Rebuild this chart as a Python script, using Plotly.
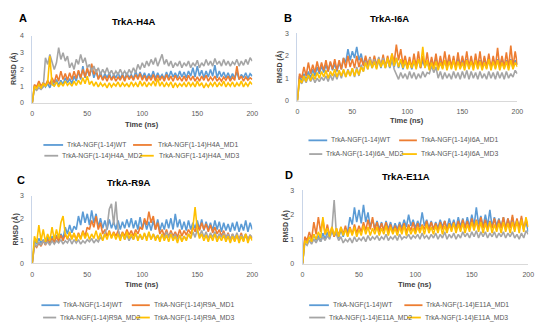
import plotly.graph_objects as go

time_ns = list(range(0, 201, 2))

panel_letters = ["A", "B", "C", "D"]
panel_titles = ["TrkA-H4A", "TrkA-I6A", "TrkA-R9A", "TrkA-E11A"]
series_names = [
    ["TrkA-NGF(1-14)WT", "TrkA-NGF(1-14)H4A_MD1", "TrkA-NGF(1-14)H4A_MD2", "TrkA-NGF(1-14)H4A_MD3"],
    ["TrkA-NGF(1-14)WT", "TrkA-NGF(1-14)I6A_MD1", "TrkA-NGF(1-14)I6A_MD2", "TrkA-NGF(1-14)I6A_MD3"],
    ["TrkA-NGF(1-14)WT", "TrkA-NGF(1-14)R9A_MD1", "TrkA-NGF(1-14)R9A_MD2", "TrkA-NGF(1-14)R9A_MD3"],
    ["TrkA-NGF(1-14)WT", "TrkA-NGF(1-14)E11A_MD1", "TrkA-NGF(1-14)E11A_MD2", "TrkA-NGF(1-14)E11A_MD3"],
]
y_max = [4, 3, 3, 3]
y_ticks = [[0, 1, 2, 3, 4], [0, 1, 2, 3], [0, 1, 2, 3], [0, 1, 2, 3]]
x_ticks = [0, 50, 100, 150, 200]

# ---- Panel A (H4A) ----
A_WT = [0, 1.05, 0.85, 1.1, 0.9, 1.2, 0.95, 1.15, 0.9, 1.3,
        1.0, 1.4, 1.05, 1.35, 1.1, 1.5, 1.2, 1.45, 1.15, 1.6,
        1.3, 1.9, 1.4, 2.2, 1.5, 2.0, 1.6, 2.1, 1.5, 1.9,
        1.45, 1.85, 1.4, 1.75, 1.5, 1.8, 1.4, 1.7, 1.5, 1.8,
        1.45, 1.75, 1.4, 1.8, 1.5, 1.7, 1.45, 1.9, 1.5, 1.85,
        1.5, 1.8, 1.45, 1.75, 1.5, 1.9, 1.45, 1.8, 1.5, 1.7,
        1.45, 1.85, 1.5, 1.9, 1.55, 1.8, 1.5, 1.9, 1.55, 1.85,
        1.5, 1.9, 1.6, 2.1, 1.55, 2.2, 1.6, 1.95, 1.5, 1.9,
        1.55, 2.0, 1.6, 2.25, 1.5, 1.9, 1.55, 1.85, 1.5, 1.8,
        1.45, 1.75, 1.5, 1.85, 1.4, 1.7, 1.5, 1.8, 1.45, 1.75,
        1.6]
A_MD1 = [0, 1.1, 0.95, 1.3, 1.0, 1.2, 1.05, 1.35, 1.1, 1.5,
         1.2, 1.7, 1.3, 1.9, 1.4, 1.75, 1.35, 1.8, 1.4, 1.9,
         1.45, 1.95, 1.5, 2.0, 1.55, 2.1, 1.6, 2.35, 1.7, 2.0,
         1.4, 1.7, 1.35, 1.6, 1.3, 1.65, 1.35, 1.6, 1.3, 1.55,
         1.35, 1.65, 1.3, 1.7, 1.4, 1.6, 1.35, 1.7, 1.4, 1.75,
         1.35, 1.65, 1.3, 1.6, 1.35, 1.7, 1.3, 1.65, 1.35, 1.6,
         1.3, 1.7, 1.35, 1.6, 1.3, 1.65, 1.35, 1.55, 1.3, 1.6,
         1.3, 1.65, 1.35, 1.6, 1.3, 1.55, 1.3, 1.6, 1.35, 1.65,
         1.3, 1.55, 1.35, 1.6, 1.3, 1.5, 1.3, 1.55, 1.35, 1.6,
         1.3, 1.55, 1.35, 2.2, 1.4, 1.6, 1.3, 1.55, 1.35, 1.5,
         1.4]
A_MD2 = [0, 0.85, 0.75, 0.9, 0.8, 0.95, 2.7, 2.3, 2.9, 2.5,
         2.0, 2.4, 3.3, 2.6, 3.0, 2.5, 2.8, 2.1, 2.4, 2.0,
         2.6, 2.3, 2.9, 2.4, 2.7, 2.1, 2.3, 1.9, 2.2, 1.8,
         2.1, 1.7, 2.0, 1.75, 2.1, 1.7, 1.95, 1.65, 1.9, 1.7,
         2.0, 1.7, 1.9, 1.65, 2.0, 1.75, 2.1, 1.8, 2.3, 2.0,
         2.4, 2.1, 2.5, 2.2, 2.6, 2.3, 2.7, 2.2, 2.5, 2.9,
         2.3, 2.6, 2.2, 2.5, 2.1, 2.4, 2.2, 2.5, 2.1, 2.4,
         2.2, 2.5, 2.1, 2.4, 2.2, 2.55, 2.1, 2.4, 2.2, 2.6,
         2.25, 2.5, 2.2, 2.65, 2.3, 2.5, 2.2, 2.6, 2.25, 2.5,
         2.2, 2.45, 2.3, 2.6, 2.2, 2.5, 2.25, 2.6, 2.3, 2.7,
         2.5]
A_MD3 = [0, 1.0, 0.85, 1.1, 0.9, 1.15, 1.0, 1.2, 2.8, 1.1,
         1.0, 1.25, 0.95, 1.2, 1.0, 1.3, 1.05, 1.2, 1.0, 1.3,
         1.05, 1.35, 1.1, 1.5, 1.15, 1.6, 1.1, 1.3, 1.0, 1.25,
         0.95, 1.2, 1.0, 1.15, 0.9, 1.2, 0.95, 1.15, 1.0, 1.25,
         0.95, 1.2, 1.0, 1.15, 0.95, 1.25, 1.0, 1.2, 0.95, 1.3,
         1.0, 1.25, 0.95, 1.2, 1.05, 1.3, 1.0, 1.45, 1.0, 1.25,
         0.95, 1.2, 1.0, 1.25, 0.9, 1.2, 0.95, 1.15, 1.0, 1.2,
         0.95, 1.25, 1.0, 1.2, 0.95, 1.3, 1.0, 1.2, 0.9, 1.15,
         0.95, 1.2, 1.0, 1.25, 0.95, 1.2, 1.0, 1.3, 0.95, 1.2,
         1.0, 1.25, 0.95, 1.2, 1.0, 1.3, 0.95, 1.2, 1.0, 1.25,
         1.1]

# ---- Panel B (I6A) ----
B_WT = [0, 1.1, 0.85, 1.2, 0.9, 1.3, 1.0, 1.4, 1.1, 1.5,
        1.2, 1.55, 1.25, 1.6, 1.3, 1.7, 1.35, 1.65, 1.3, 1.7,
        1.4, 1.9, 1.7, 2.3, 1.8, 2.2, 1.9, 2.4, 1.8, 2.1,
        1.6, 1.9, 1.5, 1.8, 1.45, 1.85, 1.5, 1.8, 1.45, 1.9,
        1.5, 1.85, 1.45, 1.8, 1.5, 1.9, 1.45, 1.8, 1.4, 1.75,
        1.45, 1.8, 1.4, 1.75, 1.5, 1.85, 1.45, 1.8, 1.5, 1.75,
        1.4, 1.8, 1.45, 1.85, 1.5, 1.75, 1.45, 1.8, 1.5, 1.85,
        1.45, 1.8, 1.5, 1.9, 1.45, 1.8, 1.5, 1.85, 1.45, 1.8,
        1.5, 1.85, 1.45, 1.8, 1.5, 1.9, 1.45, 1.85, 1.5, 1.8,
        1.45, 1.85, 1.5, 1.9, 1.45, 1.8, 1.5, 1.85, 1.45, 1.8,
        1.6]
B_MD1 = [0, 1.2, 1.0, 1.5, 1.1, 1.7, 1.2, 1.6, 1.25, 1.75,
         1.3, 1.7, 1.35, 1.8, 1.3, 1.75, 1.4, 1.85, 1.35, 1.8,
         1.4, 1.9, 1.45, 2.0, 1.5, 1.85, 1.45, 2.0, 1.5, 1.9,
         1.55, 2.0, 1.6, 1.95, 1.55, 2.0, 1.6, 1.9, 1.55, 2.05,
         1.5, 2.0, 1.6, 2.1, 1.7, 2.5, 1.8, 2.3, 1.6, 2.0,
         1.5, 1.95, 1.45, 2.1, 1.5, 2.2, 1.45, 2.0, 1.5, 2.15,
         1.45, 1.95, 1.5, 2.1, 1.45, 2.0, 1.5, 2.2, 1.55, 2.05,
         1.5, 2.0, 1.45, 2.15, 1.5, 2.0, 1.55, 2.2, 1.5, 2.0,
         1.45, 2.1, 1.5, 2.2, 1.45, 2.0, 1.5, 2.1, 1.45, 2.0,
         1.5, 2.35, 1.45, 2.0, 1.5, 2.15, 1.45, 2.45, 1.5, 2.2,
         1.6]
B_MD2 = [0, 0.9, 0.75, 1.0, 0.8, 1.1, 0.85, 1.05, 0.8, 1.0,
         0.85, 1.05, 0.9, 1.1, 0.85, 1.15, 0.9, 1.2, 0.95, 1.3,
         1.0, 1.35, 1.05, 1.4, 1.1, 1.45, 1.05, 1.5, 1.1, 1.6,
         1.3, 1.75, 1.4, 1.9, 1.5, 1.85, 1.45, 1.95, 1.5, 1.9,
         1.45, 1.85, 1.5, 1.9, 1.4, 1.2, 0.95, 1.25, 1.0, 1.2,
         0.95, 1.3, 1.0, 1.25, 0.95, 1.2, 1.0, 1.3, 1.05, 1.25,
         1.2, 1.55, 1.25, 1.5, 1.0, 1.3, 0.95, 1.25, 1.0, 1.2,
         0.95, 1.3, 1.0, 1.25, 0.95, 1.3, 1.0, 1.35, 0.95, 1.3,
         1.0, 1.25, 0.95, 1.3, 1.0, 1.2, 0.95, 1.3, 1.0, 1.25,
         0.95, 1.3, 1.0, 1.25, 0.95, 1.3, 1.0, 1.2, 1.05, 1.35,
         1.2]
B_MD3 = [0, 0.95, 0.8, 1.1, 0.85, 1.15, 0.9, 1.2, 0.95, 1.25,
         1.0, 1.3, 1.05, 1.35, 1.0, 1.3, 1.1, 1.4, 1.05, 1.35,
         1.1, 1.4, 1.05, 1.35, 1.1, 1.45, 1.1, 1.4, 1.15, 1.5,
         1.3, 1.7, 1.4, 1.8, 1.45, 1.75, 1.4, 1.85, 1.5, 1.8,
         1.45, 1.9, 1.5, 2.1, 1.55, 1.9, 1.5, 1.85, 1.45, 1.8,
         1.4, 1.75, 1.45, 1.8, 1.4, 1.85, 1.5, 2.4, 1.45, 1.8,
         1.35, 1.7, 1.4, 1.75, 1.35, 1.7, 1.4, 1.8, 1.35, 1.75,
         1.4, 1.8, 1.35, 1.75, 1.4, 1.7, 1.35, 1.8, 1.4, 1.75,
         1.35, 1.8, 1.4, 1.75, 1.35, 1.7, 1.4, 1.85, 1.35, 1.75,
         1.4, 1.8, 1.35, 1.7, 1.4, 1.75, 1.35, 1.8, 1.4, 1.7,
         1.5]

# ---- Panel C (R9A) ----
C_WT = [0, 1.0, 0.85, 1.1, 0.9, 1.05, 0.85, 1.15, 0.9, 1.2,
        0.95, 1.25, 1.0, 1.3, 1.1, 1.6, 1.3, 1.7, 1.35, 1.65,
        1.5, 2.1, 1.7, 2.3, 1.8, 2.2, 1.7, 2.35, 1.8, 2.2,
        1.6, 2.0, 1.55, 1.9, 1.5, 1.95, 1.55, 1.85, 1.5, 1.9,
        1.5, 1.85, 1.55, 1.95, 1.6, 2.0, 1.55, 1.9, 1.5, 2.05,
        1.55, 1.9, 1.5, 1.85, 1.45, 1.9, 1.5, 1.95, 1.45, 1.8,
        1.5, 1.95, 1.55, 2.0, 1.5, 2.2, 1.6, 1.95, 1.5, 1.85,
        1.45, 1.9, 1.5, 1.8, 1.55, 1.9, 1.5, 1.95, 1.45, 1.85,
        1.5, 1.8, 1.45, 1.9, 1.5, 1.85, 1.4, 1.8, 1.45, 1.75,
        1.4, 1.8, 1.45, 1.85, 1.4, 1.75, 1.45, 1.9, 1.4, 1.8,
        1.5]
C_MD1 = [0, 0.8, 0.7, 0.9, 0.75, 1.0, 0.8, 1.05, 0.85, 1.1,
         0.9, 1.2, 0.95, 1.25, 1.0, 1.3, 1.05, 1.35, 1.1, 1.3,
         1.05, 1.35, 1.1, 1.45, 1.2, 1.6, 1.5, 1.9, 1.6, 2.1,
         1.5, 1.8, 1.3, 1.5, 1.2, 1.45, 1.15, 1.4, 1.2, 1.45,
         1.15, 1.4, 1.2, 1.5, 1.25, 1.45, 1.2, 1.5, 1.3, 1.6,
         1.5, 2.0, 1.7, 2.3, 1.8, 2.1, 1.5, 1.8, 1.3, 1.5,
         1.2, 1.5, 1.15, 1.45, 1.2, 1.4, 1.15, 1.5, 1.2, 1.45,
         1.25, 1.5, 1.3, 1.6, 1.4, 1.75, 1.45, 1.8, 1.5, 1.75,
         1.4, 1.7, 1.35, 1.6, 1.3, 1.5, 1.2, 1.45, 1.1, 1.35,
         1.05, 1.3, 1.0, 1.25, 1.05, 1.35, 1.0, 1.3, 1.05, 1.25,
         1.1]
C_MD2 = [0, 0.85, 0.75, 0.95, 0.8, 1.0, 0.85, 0.95, 0.8, 1.0,
         0.85, 1.0, 0.9, 1.05, 0.85, 1.0, 0.9, 1.1, 0.85, 1.05,
         0.9, 1.05, 0.85, 1.0, 0.9, 1.05, 0.95, 1.1, 0.9, 1.05,
         0.95, 1.15, 1.05, 1.3, 1.6, 2.4, 2.65, 1.7, 2.75, 1.5,
         1.1, 1.3, 1.05, 1.25, 1.0, 1.2, 1.05, 1.3, 1.1, 1.25,
         1.05, 1.3, 1.1, 1.35, 1.05, 1.3, 1.1, 1.25, 1.05, 1.3,
         1.1, 1.4, 1.15, 1.35, 1.1, 1.3, 1.05, 1.25, 1.0, 1.2,
         1.05, 1.3, 1.1, 1.4, 1.15, 1.5, 1.2, 1.45, 1.15, 1.4,
         1.1, 1.35, 1.15, 1.4, 1.1, 1.3, 1.15, 1.35, 1.1, 1.3,
         1.05, 1.3, 1.1, 1.35, 1.05, 1.25, 1.1, 1.3, 1.05, 1.25,
         1.15]
C_MD3 = [0, 1.2, 0.9, 1.7, 1.0, 1.5, 0.95, 1.3, 1.0, 1.6,
         1.05, 1.5, 1.1, 1.8, 2.1, 1.3, 1.1, 1.4, 1.05, 1.35,
         1.0, 1.3, 1.05, 1.4, 1.1, 1.35, 1.05, 1.3, 1.1, 1.45,
         1.05, 1.35, 1.0, 1.3, 1.05, 1.4, 1.1, 1.35, 1.05, 1.3,
         1.0, 1.35, 1.05, 1.4, 1.1, 1.3, 1.05, 1.35, 1.0, 1.3,
         1.05, 1.35, 1.0, 1.4, 1.05, 1.3, 1.0, 1.25, 0.95, 1.3,
         1.0, 1.25, 0.95, 1.3, 1.0, 1.2, 0.9, 1.25, 0.95, 1.2,
         1.0, 1.3, 1.1, 1.6, 2.5, 1.5, 1.1, 1.3, 1.0, 1.25,
         0.95, 1.25, 1.0, 1.3, 0.95, 1.2, 1.0, 1.25, 0.95, 1.2,
         0.9, 1.2, 0.95, 1.25, 0.9, 1.2, 0.95, 1.3, 0.9, 1.2,
         1.0]

# ---- Panel D (E11A) ----
D_WT = [0, 1.0, 0.85, 1.1, 0.9, 1.2, 0.95, 1.15, 0.9, 1.25,
        1.0, 1.3, 1.05, 1.35, 1.1, 1.3, 1.05, 1.4, 1.1, 1.45,
        1.3, 1.9, 1.6, 2.3, 1.7, 2.2, 1.65, 2.4, 1.7, 2.1,
        1.5, 1.8, 1.45, 1.75, 1.4, 1.7, 1.35, 1.75, 1.4, 1.7,
        1.35, 1.65, 1.4, 1.7, 1.45, 1.8, 1.5, 2.0, 1.55, 1.8,
        1.45, 1.75, 1.5, 2.1, 1.55, 1.8, 1.45, 1.75, 1.4, 1.7,
        1.45, 1.8, 1.5, 1.75, 1.45, 1.85, 1.5, 1.8, 1.45, 1.9,
        1.5, 1.85, 1.45, 1.9, 1.5, 2.0, 1.55, 2.3, 1.6, 1.95,
        1.5, 2.0, 1.55, 2.2, 1.5, 1.9, 1.55, 1.85, 1.5, 1.9,
        1.45, 1.85, 1.5, 1.9, 1.45, 1.8, 1.5, 1.85, 1.4, 1.75,
        1.3]
D_MD1 = [0, 1.1, 0.95, 1.3, 1.0, 1.7, 1.2, 1.9, 1.3, 1.8,
         1.2, 1.6, 1.15, 1.5, 1.1, 1.45, 1.15, 1.5, 1.2, 1.55,
         1.15, 1.5, 1.2, 1.6, 1.25, 1.55, 1.3, 1.7, 1.35, 1.8,
         1.4, 1.9, 1.35, 1.7, 1.3, 1.65, 1.35, 1.7, 1.3, 1.6,
         1.25, 1.55, 1.3, 1.6, 1.35, 1.65, 1.3, 1.6, 1.35, 1.7,
         1.3, 1.65, 1.35, 1.6, 1.4, 1.75, 1.35, 1.7, 1.4, 1.65,
         1.35, 1.7, 1.4, 1.75, 1.35, 1.65, 1.4, 1.7, 1.35, 1.75,
         1.4, 1.8, 1.45, 1.75, 1.4, 1.85, 1.45, 1.8, 1.4, 1.9,
         1.45, 1.8, 1.4, 1.75, 1.45, 1.85, 1.4, 1.8, 1.45, 1.9,
         1.4, 1.85, 1.45, 2.0, 1.4, 1.85, 1.45, 1.95, 1.4, 1.8,
         1.5]
D_MD2 = [0, 0.85, 0.75, 0.95, 0.8, 1.0, 0.85, 1.05, 0.9, 1.1,
         0.95, 1.15, 1.0, 1.4, 2.6, 1.2, 0.95, 1.1, 0.85, 1.0,
         0.9, 1.05, 0.85, 1.1, 0.9, 1.05, 0.95, 1.1, 0.9, 1.15,
         0.95, 1.1, 1.0, 1.15, 0.95, 1.1, 1.0, 1.2, 0.95, 1.1,
         1.0, 1.15, 0.95, 1.2, 1.0, 1.1, 1.05, 1.2, 1.0, 1.15,
         1.05, 1.2, 1.0, 1.25, 1.05, 1.15, 1.0, 1.2, 1.05, 1.25,
         1.0, 1.2, 1.05, 1.3, 1.0, 1.2, 1.05, 1.25, 1.0, 1.2,
         1.05, 1.3, 1.1, 1.25, 1.05, 1.3, 1.1, 1.35, 1.05, 1.3,
         1.1, 1.3, 1.05, 1.25, 1.1, 1.3, 1.05, 1.25, 1.1, 1.3,
         1.05, 1.25, 1.1, 1.3, 1.05, 1.2, 1.0, 1.25, 1.05, 1.35,
         1.2]
D_MD3 = [0, 0.95, 0.85, 1.1, 0.9, 1.2, 1.0, 1.3, 1.05, 1.9,
         1.2, 1.45, 1.1, 1.5, 1.15, 1.45, 1.1, 1.5, 1.15, 1.4,
         1.1, 1.45, 1.15, 1.5, 1.1, 1.4, 1.15, 1.55, 1.2, 1.5,
         1.15, 1.45, 1.2, 1.5, 1.15, 1.45, 1.2, 1.55, 1.15, 1.5,
         1.2, 1.45, 1.15, 1.5, 1.2, 1.55, 1.15, 1.5, 1.2, 1.45,
         1.2, 1.5, 1.25, 1.55, 1.2, 1.6, 1.25, 1.5, 1.2, 1.55,
         1.25, 1.6, 1.2, 1.55, 1.25, 1.6, 1.3, 1.65, 1.25, 1.6,
         1.3, 1.65, 1.25, 1.6, 1.3, 1.7, 1.35, 1.75, 1.3, 1.7,
         1.25, 1.65, 1.3, 1.7, 1.25, 1.6, 1.3, 1.65, 1.25, 1.7,
         1.3, 1.65, 1.25, 1.7, 1.3, 1.75, 1.25, 1.8, 1.3, 1.9,
         1.5]

panel_data = [
    [A_WT, A_MD1, A_MD2, A_MD3],
    [B_WT, B_MD1, B_MD2, B_MD3],
    [C_WT, C_MD1, C_MD2, C_MD3],
    [D_WT, D_MD1, D_MD2, D_MD3],
]
colors = ["#5B9BD5", "#ED7D31", "#A5A5A5", "#FFC000"]

# ---- layout geometry (pixels) ----
W, H = 550, 332
def px(x): return x / W
def py(y): return 1 - y / H

# plot areas: (left, right, top, bottom) in pixels
areas = [(30.7, 254, 32.7, 101), (299.7, 523, 30, 98.7),
         (30.7, 254, 196, 264.7), (305, 534, 190.3, 265.3)]
letter_pos = [(21.7, 14), (290, 14), (19.3, 180), (291.7, 175)]
title_pos = [(133.3, 18.3), (393.3, 15), (128.3, 182), (410, 176)]
xtitle_pos = [(142.3, 122.7), (411.3, 119), (142.3, 286.7), (419.5, 286.7)]
ytitle_pos = [(11.7, 66.8), (282.3, 64.3), (13.3, 230.3), (287.7, 227.8)]
# legend entries: (line x0, line x1, text x, y) in pixels, per series
legend_geo = [
    [(42, 62, 64, 144), (133, 152, 156, 144), (43, 57, 59, 155), (140, 154, 157, 155)],
    [(311, 330, 332, 139.3), (403, 421, 423, 139.3), (311.7, 325, 327, 153.3), (406, 421, 423, 153.3)],
    [(40, 58.3, 60, 307.7), (131.7, 150, 152, 307.7), (41.7, 55, 57, 320.3), (136, 150, 152, 320.3)],
    [(311.7, 331.7, 333.5, 307.7), (408.3, 426.7, 428.5, 307.7), (311.7, 328, 330, 320.3), (411, 425, 427, 320.3)],
]

fig = go.Figure()
annotations = []
shapes = []
tfont = dict(size=7, color="#595959", family="Liberation Sans")

for p in range(4):
    xa = "x" if p == 0 else f"x{p+1}"
    ya = "y" if p == 0 else f"y{p+1}"
    for s in range(4):
        fig.add_trace(go.Scatter(
            x=time_ns, y=panel_data[p][s], mode="lines", name=series_names[p][s],
            line=dict(color=colors[s], width=1.6), xaxis=xa, yaxis=ya,
            showlegend=False, hoverinfo="skip"))
    l, r, t, b = areas[p]
    xkey = "xaxis" if p == 0 else f"xaxis{p+1}"
    ykey = "yaxis" if p == 0 else f"yaxis{p+1}"
    fig.update_layout(**{
        xkey: dict(domain=[px(l), px(r)], range=[0, 200], anchor=ya,
                   tickvals=x_ticks, showgrid=False, zeroline=False,
                   showline=True, linecolor="#D9D9D9", linewidth=1,
                   ticks="", tickfont=tfont, ticklabelstandoff=4),
        ykey: dict(domain=[py(b), py(t)], range=[0, y_max[p]], anchor=xa,
                   tickvals=y_ticks[p], showgrid=False, zeroline=False,
                   showline=True, linecolor="#C9D5E8", linewidth=1,
                   ticks="", tickfont=tfont, ticklabelstandoff=6),
    })
    annotations.append(dict(x=px(letter_pos[p][0]), y=py(letter_pos[p][1]), xref="paper",
                            yref="paper", text=f"<b>{panel_letters[p]}</b>", showarrow=False,
                            font=dict(size=11, color="#000000", family="Liberation Sans"),
                            xanchor="center", yanchor="middle"))
    annotations.append(dict(x=px(title_pos[p][0]), y=py(title_pos[p][1]), xref="paper",
                            yref="paper", text=f"<b>{panel_titles[p]}</b>", showarrow=False,
                            font=dict(size=9.5, color="#000000", family="Liberation Sans"),
                            xanchor="center", yanchor="middle"))
    annotations.append(dict(x=px(xtitle_pos[p][0]), y=py(xtitle_pos[p][1]), xref="paper",
                            yref="paper", text="<b>Time (ns)</b>", showarrow=False,
                            font=dict(size=7.5, color="#404040", family="Liberation Sans"),
                            xanchor="center", yanchor="middle"))
    annotations.append(dict(x=px(ytitle_pos[p][0]), y=py(ytitle_pos[p][1]), xref="paper",
                            yref="paper", text="<b>RMSD (Å)</b>", showarrow=False, textangle=-90,
                            font=dict(size=7, color="#404040", family="Liberation Sans"),
                            xanchor="center", yanchor="middle"))
    for s in range(4):
        x0, x1, tx, yy = legend_geo[p][s]
        shapes.append(dict(type="line", xref="paper", yref="paper",
                           x0=px(x0), x1=px(x1), y0=py(yy), y1=py(yy),
                           line=dict(color=colors[s], width=1.8)))
        annotations.append(dict(x=px(tx), y=py(yy), xref="paper", yref="paper",
                                text=series_names[p][s], showarrow=False,
                                font=dict(size=6.8, color="#595959", family="Liberation Sans"),
                                xanchor="left", yanchor="middle"))

fig.update_layout(width=W, height=H, margin=dict(l=0, r=0, t=0, b=0),
                  paper_bgcolor="white", plot_bgcolor="white", hovermode=False,
                  annotations=annotations, shapes=shapes, showlegend=False)

fig.write_html("out.html", config={"displayModeBar": False},
               post_script="document.body.style.margin='0';")
